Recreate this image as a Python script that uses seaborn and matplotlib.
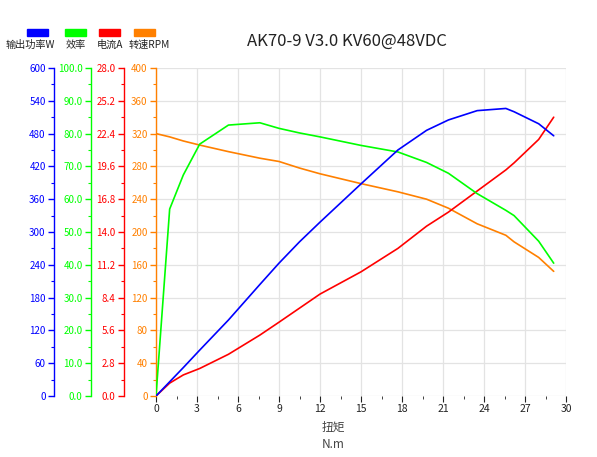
import numpy as np
import pandas as pd
import matplotlib
matplotlib.use("Agg")
import matplotlib.pyplot as plt
from matplotlib.patches import Rectangle
from matplotlib.ticker import MultipleLocator, AutoMinorLocator, FormatStrFormatter
import seaborn as sns

torque = [0, 1.0, 2.0, 3.2, 5.3, 7.6, 9.0, 10.5, 12.0, 15.0, 17.7, 19.8, 21.4, 23.5, 25.6, 26.2, 28.0, 29.1]
power_w = [0, 26, 52, 84, 139, 204, 243, 282, 318, 388, 450, 486, 505, 522, 526, 520, 498, 476]
efficiency = [0, 57.0, 67.4, 76.8, 82.6, 83.3, 81.6, 80.2, 79.0, 76.4, 74.4, 71.2, 67.9, 61.7, 56.6, 55.0, 47.2, 40.5]
current_a = [0, 1.1, 1.8, 2.35, 3.56, 5.2, 6.3, 7.5, 8.7, 10.6, 12.6, 14.5, 15.7, 17.5, 19.3, 19.9, 21.9, 23.8]
speed_rpm = [320, 316, 311, 306, 298, 290, 286, 278, 271, 259, 249, 240, 229, 210, 196, 188, 169, 152]

labels = ["输出功率W", "效率", "电流A", "转速RPM"]
colors = ["#0000ff", "#00ff00", "#ff0000", "#ff8000"]

sns.set_style("white")
plt.rcParams['font.family'] = ['Noto Sans CJK SC', 'DejaVu Sans']
plt.rcParams['axes.unicode_minus'] = False

df = pd.DataFrame({"torque": torque, "power": power_w, "eff": efficiency,
                   "current": current_a, "rpm": speed_rpm})

W, H = 597, 457
fig = plt.figure(figsize=(W / 100, H / 100), dpi=100)
ax = fig.add_axes([156 / W, (H - 396) / H, 410 / W, 328 / H])

# main axis carries speed (orange) and the grid
ax.set_xlim(0, 30)
ax.set_ylim(0, 400)
ax.xaxis.set_major_locator(MultipleLocator(3))
ax.xaxis.set_minor_locator(MultipleLocator(1.5))
ax.grid(True, which='major', color='#e3e3e3', linewidth=0.9)
ax.set_axisbelow(True)
for s in ['top', 'right']:
    ax.spines[s].set_visible(False)
ax.spines['bottom'].set_color('#222222')
ax.spines['bottom'].set_linewidth(1.0)
ax.tick_params(axis='x', which='both', direction='out', colors='#222222', labelsize=7.5, pad=2)
ax.tick_params(axis='x', which='major', length=4, bottom=True)
ax.tick_params(axis='x', which='minor', length=2, bottom=True)


def style_y(a, color, lim, step, fmt, offset):
    a.set_ylim(*lim)
    a.yaxis.set_major_locator(MultipleLocator(step))
    a.yaxis.set_minor_locator(AutoMinorLocator(2))
    a.yaxis.set_major_formatter(FormatStrFormatter(fmt))
    a.yaxis.set_ticks_position('left')
    a.yaxis.set_label_position('left')
    a.spines['left'].set_visible(True)
    a.spines['left'].set_position(('axes', offset))
    a.spines['left'].set_color(color)
    a.spines['left'].set_linewidth(1.0)
    for s in ['top', 'right', 'bottom']:
        a.spines[s].set_visible(False)
    a.tick_params(axis='y', which='both', direction='out', color=color, labelcolor=color,
                  labelsize=7, pad=2, left=True, right=False, labelleft=True, labelright=False)
    a.tick_params(axis='y', which='major', length=4, width=1.0)
    a.tick_params(axis='y', which='minor', length=2.5, width=0.8)


style_y(ax, colors[3], (0, 400), 40, '%d', 0.0)

ax_red = ax.twinx()
style_y(ax_red, colors[2], (0, 28), 2.8, '%.1f', (124 - 156) / 410)
ax_green = ax.twinx()
style_y(ax_green, colors[1], (0, 100), 10, '%.1f', (91 - 156) / 410)
ax_blue = ax.twinx()
style_y(ax_blue, colors[0], (0, 600), 60, '%d', (54 - 156) / 410)
for a in (ax_red, ax_green, ax_blue):
    a.grid(False)
    a.set_xlim(0, 30)

lw = 1.2
sns.lineplot(data=df, x="torque", y="rpm", ax=ax, color=colors[3], linewidth=lw)
sns.lineplot(data=df, x="torque", y="current", ax=ax_red, color=colors[2], linewidth=lw)
sns.lineplot(data=df, x="torque", y="eff", ax=ax_green, color=colors[1], linewidth=lw)
sns.lineplot(data=df, x="torque", y="power", ax=ax_blue, color=colors[0], linewidth=lw)
for a in (ax, ax_red, ax_green, ax_blue):
    a.set_xlabel("")
    a.set_ylabel("")

# axis label under the torque axis
fig.text(333 / W, 1 - 427 / H, "扭矩", ha='center', va='center', fontsize=8.5, color='#444444')
fig.text(333 / W, 1 - 444 / H, "N.m", ha='center', va='center', fontsize=8.5, color='#444444')

# title
fig.text(347 / W, 1 - 41 / H, "AK70-9 V3.0 KV60@48VDC", ha='center', va='center',
         fontsize=12, color='#222222')

# legend: colour block over each label
rect_left = [27, 65, 99, 134]
label_x = [30, 76, 110, 149]
for x0, lx, lab, c in zip(rect_left, label_x, labels, colors):
    fig.patches.append(Rectangle((x0 / W, 1 - 35.5 / H), 21 / W, 6 / H,
                                 transform=fig.transFigure, color=c, figure=fig))
    fig.text(lx / W, 1 - 45 / H, lab, ha='center', va='center',
             fontsize=7.3, color='#222222')

fig.savefig("out.png", dpi=100)
